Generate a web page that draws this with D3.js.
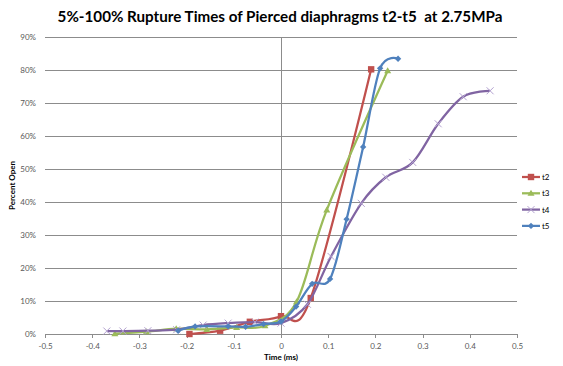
<!DOCTYPE html>
<html>
<head>
<meta charset="utf-8">
<script src="https://cdn.jsdelivr.net/npm/d3@7"></script>
<style>
  html, body { margin: 0; padding: 0; background: #fff; }
  svg { display: block; }
</style>
</head>
<body>
<div id="chart"></div>
<script>
// Percent open vs time (ms)
const seriesNames = ['t2', 't3', 't4', 't5'];
const t2 = [[-0.194, 0.0], [-0.129, 1.0], [-0.066, 3.7], [0.0, 5.4], [0.063, 10.9], [0.191, 80.2]];
const t3 = [[-0.352, 0.1], [-0.285, 0.7], [-0.222, 1.6], [-0.157, 1.4], [-0.094, 2.0], [-0.034, 2.5],
            [0.033, 9.8], [0.097, 37.6], [0.226, 79.8]];
const t4 = [[-0.369, 0.9], [-0.335, 0.9], [-0.282, 1.0], [-0.221, 1.3], [-0.165, 2.7], [-0.112, 3.3],
            [-0.055, 3.6], [0.0, 3.3], [0.056, 9.0], [0.106, 23.5], [0.17, 39.6], [0.222, 47.5],
            [0.279, 52.0], [0.333, 63.7], [0.386, 71.9], [0.443, 73.7]];
const t5 = [[-0.218, 1.0], [-0.182, 2.3], [-0.112, 2.3], [-0.075, 2.2], [-0.037, 3.0], [0.0, 3.8],
            [0.032, 8.3], [0.066, 15.2], [0.104, 16.7], [0.139, 34.8], [0.174, 56.7], [0.21, 80.5],
            [0.248, 83.4]];
const xTicks = [-0.5, -0.4, -0.3, -0.2, -0.1, 0, 0.1, 0.2, 0.3, 0.4, 0.5];
const yTicks = [0, 10, 20, 30, 40, 50, 60, 70, 80, 90];

const data = [t2, t3, t4, t5];
const colors = ['#C0504D', '#9BBB59', '#8064A2', '#4F81BD'];
const shapes = ['square', 'triangle', 'x', 'diamond'];

const W = 563, H = 366;
const M = { left: 45, right: 517, top: 37, bottom: 334 };
const FONT = 'Lato, "Liberation Sans", sans-serif';
const GRID = '#8c8c8c';

const svg = d3.select('#chart').append('svg').attr('width', W).attr('height', H);
const x = d3.scaleLinear().domain([-0.5, 0.5]).range([M.left, M.right]);
const y = d3.scaleLinear().domain([0, 90]).range([M.bottom, M.top]);

// title (keeps the double space of the original)
svg.append('text').attr('x', 280).attr('y', 22).attr('text-anchor', 'middle')
  .attr('font-family', FONT).attr('font-weight', 700).attr('font-size', 15.2).attr('fill', '#000')
  .style('white-space', 'pre')
  .text('5%-100% Rupture Times of Pierced diaphragms t2-t5  at 2.75MPa');

// horizontal gridlines
svg.append('g').selectAll('line').data(yTicks).join('line')
  .attr('x1', M.left).attr('x2', M.right).attr('y1', d => y(d)).attr('y2', d => y(d))
  .attr('stroke', GRID).attr('stroke-width', 1).attr('shape-rendering', 'crispEdges');

// y tick labels
svg.append('g').selectAll('text').data(yTicks).join('text')
  .attr('x', 36).attr('y', d => y(d) + 3).attr('text-anchor', 'end')
  .attr('font-family', FONT).attr('font-size', 8).attr('fill', '#595959')
  .text(d => d + '%');

// x axis (bottom) with ticks
const xAxis = d3.axisBottom(x).tickValues(xTicks).tickSize(4).tickPadding(5)
  .tickFormat(d => d === 0 ? '0' : d3.format('.1f')(d).replace('\u2212', '-'));
const gx = svg.append('g').attr('transform', `translate(0,${M.bottom})`).call(xAxis);
gx.select('.domain').attr('stroke', GRID).attr('shape-rendering', 'crispEdges');
gx.selectAll('.tick line').attr('stroke', GRID).attr('shape-rendering', 'crispEdges');
gx.selectAll('.tick text').attr('font-family', FONT).attr('font-size', 8).attr('fill', '#595959');

// vertical axis at x = 0
svg.append('line').attr('x1', x(0)).attr('x2', x(0)).attr('y1', M.top).attr('y2', M.bottom)
  .attr('stroke', GRID).attr('stroke-width', 1).attr('shape-rendering', 'crispEdges');

// axis titles
svg.append('text').attr('x', x(0)).attr('y', 360).attr('text-anchor', 'middle')
  .attr('font-family', FONT).attr('font-weight', 700).attr('font-size', 8).attr('fill', '#000')
  .text('Time (ms)');
svg.append('text').attr('transform', `translate(15,${(M.top + M.bottom) / 2}) rotate(-90)`)
  .attr('text-anchor', 'middle')
  .attr('font-family', FONT).attr('font-weight', 700).attr('font-size', 8).attr('fill', '#000')
  .text('Percent Open');

function marker(g, shape, color, s) {
  if (shape === 'square') {
    g.append('rect').attr('x', -s).attr('y', -s).attr('width', 2 * s).attr('height', 2 * s).attr('fill', color);
  } else if (shape === 'triangle') {
    g.append('path').attr('d', `M0,${-s * 1.1}L${s * 1.1},${s * 0.8}L${-s * 1.1},${s * 0.8}Z`).attr('fill', color);
  } else if (shape === 'diamond') {
    g.append('path').attr('d', `M0,${-s}L${s},0L0,${s}L${-s},0Z`).attr('fill', color);
  } else {
    g.append('path').attr('d', `M${-s},${-s}L${s},${s}M${-s},${s}L${s},${-s}`)
      .attr('stroke', '#b3a2d0').attr('stroke-width', 1).attr('fill', 'none');
  }
}

// Excel-style smoothing: uniform Catmull-Rom
const line = d3.line().x(d => x(d[0])).y(d => y(d[1])).curve(d3.curveCardinal.tension(0));
const plot = svg.append('g');
data.forEach((pts, i) => {
  plot.append('path').attr('d', line(pts)).attr('fill', 'none')
    .attr('stroke', colors[i]).attr('stroke-width', 2.25).attr('stroke-linejoin', 'round');
  pts.forEach(p => {
    const g = plot.append('g').attr('transform', `translate(${x(p[0])},${y(p[1])})`);
    marker(g, shapes[i], colors[i], shapes[i] === 'x' ? 3.5 : 3.2);
  });
});

// legend
const leg = svg.append('g');
seriesNames.forEach((name, i) => {
  const ly = 177 + i * 16.3;
  leg.append('line').attr('x1', 522).attr('x2', 540).attr('y1', ly).attr('y2', ly)
    .attr('stroke', colors[i]).attr('stroke-width', 2.25);
  const g = leg.append('g').attr('transform', `translate(531,${ly})`);
  marker(g, shapes[i], colors[i], shapes[i] === 'x' ? 3.5 : 3.2);
  leg.append('text').attr('x', 542).attr('y', ly + 3).attr('font-family', FONT).attr('font-size', 8)
    .attr('fill', '#000').text(name);
});
</script>
</body>
</html>
